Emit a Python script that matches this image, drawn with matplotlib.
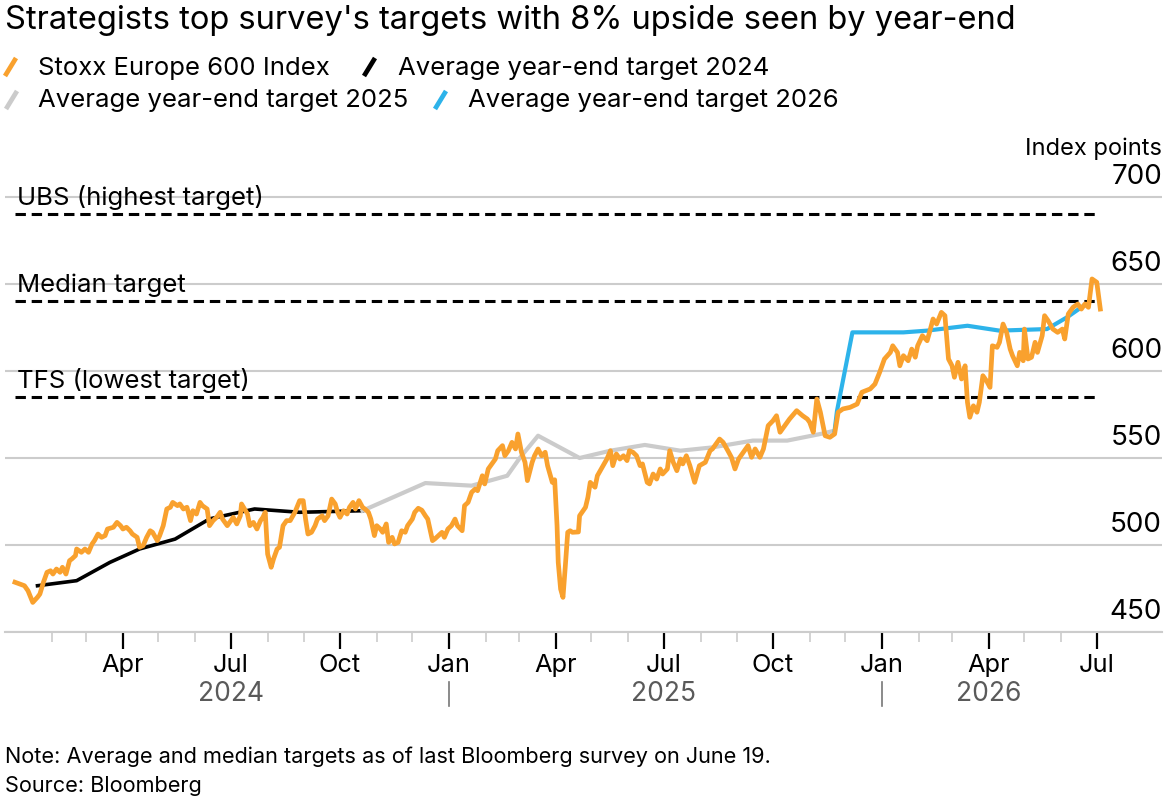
import matplotlib
matplotlib.use("Agg")
import matplotlib.pyplot as plt
import matplotlib.dates as mdates
import matplotlib.transforms as mtransforms
from matplotlib.lines import Line2D
import pandas as pd

plt.rcParams['font.family'] = ['Inter', 'DejaVu Sans']

W, H = 1176, 804
start = pd.Timestamp('2024-01-01')

# Stoxx Europe 600 (days since 2024-01-01, index points)
stoxx_day = [0, 4, 8, 11, 15, 19, 21, 24, 27, 30, 32, 35, 38, 40, 43, 46, 48, 51, 52, 56,
             59, 62, 65, 67, 70, 73, 76, 78, 83, 86, 89, 91, 94, 97, 99, 103, 105, 108, 111, 114,
             116, 120, 122, 125, 128, 131, 133, 137, 139, 142, 145, 148, 150, 153, 156, 158, 162, 164, 167, 170,
             173, 175, 179, 181, 184, 187, 190, 191, 196, 198, 201, 204, 207, 209, 211, 213, 216, 218, 221, 223,
             226, 229, 232, 236, 240, 243, 245, 247, 250, 253, 255, 259, 261, 264, 267, 270, 272, 274, 277, 280,
             282, 285, 287, 290, 293, 295, 298, 300, 303, 305, 308, 310, 313, 315, 318, 320, 323, 326, 329, 331,
             335, 337, 340, 343, 346, 348, 352, 354, 357, 360, 362, 365, 368, 371, 373, 377, 379, 382, 385, 388,
             390, 394, 396, 399, 402, 405, 407, 411, 413, 416, 419, 422, 424, 427, 430, 432, 436, 438, 441, 444,
             447, 449, 453, 455, 457, 458, 460, 462, 464, 466, 468, 470, 475, 476, 481, 483, 485, 489, 491, 495,
             499, 502, 504, 507, 510, 513, 516, 518, 521, 524, 527, 529, 533, 535, 538, 541, 544, 546, 550, 552,
             555, 558, 561, 563, 566, 569, 573, 577, 582, 586, 588, 594, 597, 601, 604, 607, 610, 614, 618, 621,
             624, 628, 631, 635, 639, 642, 645, 651, 653, 659, 664, 668, 670, 673, 676, 679, 683, 687, 691, 694,
             698, 704, 710, 714, 721, 725, 729, 733, 738, 740, 744, 746, 749, 753, 756, 759, 761, 765, 769, 771,
             774, 777, 781, 784, 787, 790, 792, 795, 798, 801, 803, 805, 808, 811, 813, 816, 819, 822, 824, 828,
             830, 833, 836, 839, 841, 845, 847, 850, 851, 854, 857, 860, 862, 866, 868, 871, 875, 879, 883, 885,
             888, 892, 896, 899, 902, 905, 908, 912, 915]
stoxx_val = [478.6, 477.6, 476.6, 473.7, 467.0, 470.0, 471.8, 478.6, 484.3, 485.2, 483.3, 486.2, 484.3, 487.2, 483.3, 491.0, 492.0, 493.9, 497.7, 495.8,
             497.7, 495.8, 500.6, 502.5, 506.3, 504.4, 505.4, 509.2, 510.2, 513.0, 511.1, 509.2, 510.2, 508.2, 506.3, 504.4, 498.7, 499.6, 504.4, 508.2,
             507.3, 502.5, 505.4, 511.1, 520.7, 521.7, 524.5, 522.6, 523.6, 520.7, 521.7, 514.0, 519.7, 517.8, 524.5, 522.6, 520.7, 511.1, 514.0, 515.9,
             518.8, 514.9, 511.1, 513.0, 515.9, 512.1, 516.8, 523.6, 517.8, 511.1, 513.0, 509.2, 514.0, 515.9, 518.8, 494.8, 487.2, 492.0, 497.7, 498.7,
             511.1, 514.0, 514.0, 518.8, 525.5, 525.5, 514.9, 506.3, 507.3, 511.1, 514.9, 516.8, 514.0, 516.8, 526.4, 523.6, 518.8, 515.9, 519.7, 517.8,
             521.7, 524.5, 520.7, 525.5, 521.7, 520.7, 518.8, 514.9, 505.4, 511.1, 509.2, 507.3, 512.1, 501.5, 504.4, 500.6, 501.5, 508.2, 507.3, 511.1,
             514.9, 518.8, 521.1, 520.0, 516.8, 514.9, 502.5, 503.5, 505.4, 507.3, 504.4, 509.2, 511.1, 514.9, 511.1, 508.2, 522.6, 524.5, 530.3, 532.2,
             531.2, 539.8, 535.1, 543.7, 546.6, 549.4, 554.2, 557.1, 551.3, 554.2, 559.0, 555.2, 563.8, 553.3, 547.5, 537.0, 547.5, 551.3, 555.2, 551.3,
             553.3, 545.6, 536.0, 537.5, 511.1, 490.0, 474.7, 469.9, 488.1, 507.3, 508.2, 507.3, 507.5, 516.8, 521.7, 527.4, 536.0, 533.2, 539.8, 544.6,
             549.4, 554.2, 545.6, 552.3, 549.4, 551.3, 548.5, 554.2, 553.3, 551.3, 545.6, 546.6, 536.0, 535.1, 540.8, 537.9, 543.7, 540.8, 543.7, 554.2,
             547.5, 542.7, 549.4, 546.6, 551.3, 545.6, 536.0, 545.6, 547.5, 554.2, 555.2, 560.9, 559.0, 554.2, 550.4, 543.7, 549.4, 553.3, 557.1, 550.4,
             555.2, 550.4, 555.2, 568.6, 571.4, 574.3, 564.8, 570.5, 572.4, 577.2, 574.3, 572.4, 570.5, 564.8, 583.9, 576.3, 562.8, 561.9, 563.8, 576.3,
             578.2, 579.1, 581.0, 587.8, 589.7, 592.5, 599.3, 606.9, 610.7, 614.5, 610.7, 603.0, 608.8, 605.9, 612.6, 607.9, 614.5, 620.3, 617.4, 622.2,
             629.9, 627.0, 633.7, 631.8, 606.9, 603.0, 596.4, 605.0, 595.4, 603.0, 582.0, 573.4, 580.0, 576.3, 582.0, 597.3, 594.4, 590.6, 614.5, 613.6,
             616.5, 627.0, 622.2, 612.6, 608.8, 603.0, 610.7, 605.9, 624.1, 606.9, 607.9, 616.5, 610.7, 620.3, 631.8, 628.9, 624.1, 622.2, 624.1, 618.4,
             632.8, 636.6, 638.5, 635.6, 638.5, 636.6, 652.9, 651.0, 635.6]

# average year-end targets
avg24_day = [19, 52, 80, 105, 135, 164, 202, 240, 293]
avg24_val = [476.6, 479.5, 490.0, 497.7, 503.4, 515.0, 520.7, 518.8, 519.7]
avg25_day = [293, 346, 385, 415, 426, 441, 476, 502, 531, 561, 588, 622, 651, 679, 691]
avg25_val = [519.7, 535.6, 534.1, 539.8, 550.4, 562.8, 550.0, 554.2, 557.5, 554.2, 556.1, 560.0, 560.0, 563.8, 565.7]
avg26_day = [691, 693, 706, 749, 769, 803, 830, 870, 887, 902]
avg26_val = [565.7, 577.0, 622.2, 622.2, 623.2, 626.0, 623.2, 624.1, 630.9, 638.0]

target_labels = ['UBS (highest target)', 'Median target', 'TFS (lowest target)']
target_vals = [690, 640, 585]
target_span = ['2024-01-01', '2026-07-01']

yticks = [450, 500, 550, 600, 650, 700]
month_ticks = ['2024-04-01', '2024-07-01', '2024-10-01', '2025-01-01', '2025-04-01',
               '2025-07-01', '2025-10-01', '2026-01-01', '2026-04-01', '2026-07-01']
month_labels = ['Apr', 'Jul', 'Oct', 'Jan', 'Apr', 'Jul', 'Oct', 'Jan', 'Apr', 'Jul']
year_labels = ['2024', '2025', '2026']
year_pos = ['2024-07-01', '2025-07-01', '2026-04-01']
year_breaks = ['2025-01-01', '2026-01-01']

ORANGE = '#f9a12e'
BLUE = '#2db3ea'
GRAY = '#cbcbcb'
GRID = '#cccccc'


def to_dates(days):
    return start + pd.to_timedelta(days, unit='D')


fig = plt.figure(figsize=(W / 100, H / 100), dpi=100)
ax_bottom = 633
ax_h = (702 - 450) * 1.74
ax = fig.add_axes([5 / W, (H - ax_bottom) / H, 1157 / W, ax_h / H])

# target dashed lines + labels
span = pd.to_datetime(target_span)
for lab, v in zip(target_labels, target_vals):
    ax.plot(span, [v, v], color='black', lw=2.2, dashes=(3.4, 1.9), zorder=2)
    ax.annotate(lab, xy=(span[0], v), xytext=(1.5, 7.5), textcoords='offset points',
                ha='left', va='baseline', fontsize=18.5, color='black', zorder=5)

ax.plot(to_dates(avg24_day), avg24_val, color='black', lw=2.6, zorder=3)
ax.plot(to_dates(avg25_day), avg25_val, color=GRAY, lw=3.0, zorder=3)
ax.plot(to_dates(avg26_day), avg26_val, color=BLUE, lw=3.0, zorder=3)
ax.plot(to_dates(stoxx_day), stoxx_val, color=ORANGE, lw=3.4, zorder=4,
        solid_joinstyle='round')

ax.set_xlim(mdates.date2num(start) - 8.4, mdates.date2num(start) + 967)
ax.set_ylim(450, 702)

for s in ['top', 'left', 'right']:
    ax.spines[s].set_visible(False)
ax.spines['bottom'].set_color(GRID)
ax.spines['bottom'].set_linewidth(1.5)

ax.set_yticks(yticks)
ax.yaxis.grid(True, color=GRID, lw=1.5, zorder=0)
ax.tick_params(axis='y', length=0, labelleft=False, labelright=False)
for v in yticks:
    ax.annotate(str(v), xy=(1.0, v), xycoords=('axes fraction', 'data'),
                xytext=(0, 10), textcoords='offset points', ha='right', va='baseline',
                fontsize=20, color='black', annotation_clip=False)
ax.annotate('Index points', xy=(1.0, 700), xycoords=('axes fraction', 'data'),
            xytext=(0, 31), textcoords='offset points', ha='right', va='baseline',
            fontsize=17, color='black', annotation_clip=False)

ax.set_xticks(pd.to_datetime(month_ticks))
ax.set_xticklabels(month_labels)
ax.set_xticks(pd.date_range('2024-02-01', '2026-06-01', freq='MS'), minor=True)
ax.tick_params(axis='x', which='major', length=12, width=1.6, color='black',
               labelsize=18.3, pad=3)
ax.tick_params(axis='x', which='minor', length=7, width=1.2, color=GRID)

# year row under the month labels
trans = mtransforms.blended_transform_factory(ax.transData, ax.transAxes)
ypx = lambda py: (ax_bottom - py) / ax_h
for lab, d in zip(year_labels, pd.to_datetime(year_pos)):
    ax.text(d, ypx(694), lab, transform=trans, ha='center', va='center',
            fontsize=19, color='#5a5a5a')
for d in pd.to_datetime(year_breaks):
    ax.add_line(Line2D([d, d], [ypx(683), ypx(707)], transform=trans, color='#777777',
                       lw=1.2, clip_on=False))

# title
fig.text(5 / W, 1 - 20 / H, "Strategists top survey's targets with 8% upside seen by year-end",
         ha='left', va='center', fontsize=23.5, color='black')

# legend
fy = lambda py: 1 - py / H
legend_items = [
    (ORANGE, 5, 68, 'Stoxx Europe 600 Index', 38),
    ('black', 364, 68, 'Average year-end target 2024', 398),
    (GRAY, 6, 101, 'Average year-end target 2025', 38),
    (BLUE, 435, 101, 'Average year-end target 2026', 468),
]
for col, sx, sy, lab, tx in legend_items:
    fig.add_artist(Line2D([sx / W, (sx + 11) / W], [fy(sy + 9), fy(sy - 9)],
                          transform=fig.transFigure, color=col, lw=3.4,
                          solid_capstyle='butt'))
    fig.text(tx / W, fy(sy), lab, ha='left', va='center', fontsize=18.5, color='black')

# notes
fig.text(5 / W, fy(757), 'Note: Average and median targets as of last Bloomberg survey on June 19.',
         ha='left', va='center', fontsize=15.6, color='black')
fig.text(5 / W, fy(786), 'Source: Bloomberg', ha='left', va='center', fontsize=15.6, color='black')

fig.savefig('out.png', dpi=100)
